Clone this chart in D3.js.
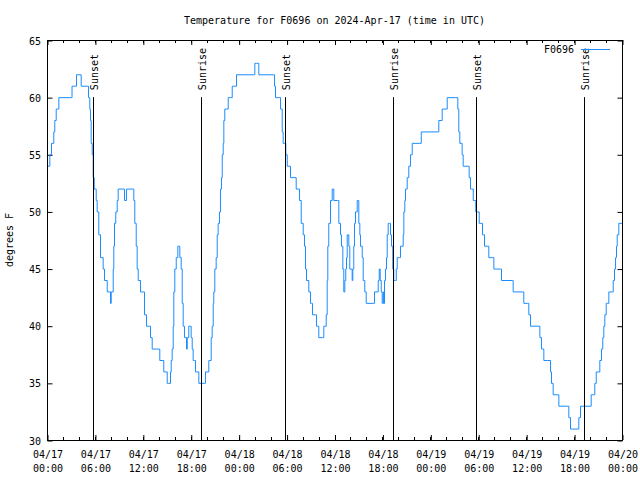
<!DOCTYPE html>
<html><head><meta charset="utf-8">
<script src="https://cdn.jsdelivr.net/npm/d3@7"></script>
<style>
html,body{margin:0;padding:0;background:#fff;}
svg{display:block;}
text{font-family:"DejaVu Sans Mono",monospace;font-size:10px;fill:#000;}
</style></head><body>
<svg id="c" width="640" height="480"></svg>
<script>
// ---- data ----
const title = "Temperature for F0696 on 2024-Apr-17 (time in UTC)";
const seriesName = "F0696";
const yLabel = "degrees F";
const startTime = "2024-04-17T00:00:00Z";
const endTime = "2024-04-20T00:00:00Z";
// hours since start (UTC)
const hours = [0,0.16,0.29,0.5,0.79,0.91,1.09,1.29,1.42,2.97,3.07,3.38,3.63,3.92,4.22,4.97,5.13,5.30,5.38,5.47,5.60,5.72,5.85,6.10,6.22,6.42,6.64,6.97,7.14,7.48,7.89,7.98,8.23,8.30,8.39,8.55,8.73,8.85,9.43,9.64,9.89,10.68,10.81,10.93,11.11,11.23,11.36,11.65,12.06,12.15,12.40,12.81,12.90,13.11,13.94,14.06,14.56,14.99,15.19,15.40,15.49,15.61,15.74,15.82,15.94,16.12,16.32,16.44,16.57,16.74,16.87,16.99,17.16,17.41,17.50,17.69,17.82,17.99,18.12,18.24,18.41,18.53,18.95,19.66,19.78,20.00,20.20,20.32,20.50,20.62,20.75,20.82,20.95,21.12,21.25,21.37,21.54,21.66,21.79,21.88,22.00,22.08,22.20,22.38,22.63,22.92,23.13,23.33,23.67,25.76,25.96,26.17,26.46,28.26,28.43,28.55,28.96,29.18,29.39,29.51,29.71,29.84,30.02,30.22,30.43,30.97,31.14,31.39,31.56,31.77,32.02,32.18,32.31,32.43,32.72,32.93,33.06,33.18,33.56,33.68,33.85,33.97,34.47,34.60,34.72,34.90,35.02,35.10,35.22,35.44,35.65,35.85,36.35,36.48,36.69,36.81,36.98,37.10,37.23,37.35,37.44,37.53,37.65,37.73,37.85,38.03,38.15,38.23,38.35,38.44,38.57,38.78,38.86,38.98,39.11,39.19,39.41,39.53,39.73,39.91,40.86,40.95,41.29,41.41,41.54,41.66,41.79,41.91,42.04,42.11,42.20,42.32,42.45,42.54,42.66,42.83,42.95,43.08,43.24,43.36,43.58,43.67,43.79,44.11,44.20,44.54,44.62,44.74,44.83,45.04,45.24,45.45,45.67,46.62,46.80,48.87,49.00,49.42,49.62,49.84,50.05,51.09,51.38,51.50,51.63,51.80,51.92,52.05,52.68,52.80,52.97,53.09,53.31,53.47,53.63,53.88,54.06,54.31,54.47,54.63,54.72,55.13,55.26,55.69,55.89,56.72,56.85,58.19,58.31,59.44,59.64,60.14,60.27,60.48,61.40,61.65,61.86,61.98,62.15,62.65,62.99,63.11,63.32,63.82,64.03,65.08,65.28,65.49,65.70,66.40,66.53,66.74,67.99,68.08,68.41,68.53,68.71,69.04,69.16,69.37,69.53,69.66,69.79,69.96,70.16,70.29,70.71,70.84,71.00,71.13,71.25,71.34,71.54,72.0];
const tempF = [54,54,55,56,57,58,59,59,60,60,61,61,62,62,61,61,60,59,58,56,55,53,52,51,50,48,46,45,44,43,42,43,45,47,49,50,51,52,52,51,52,52,51,49,47,45,44,43,43,41,40,40,39,38,38,37,36,35,35,36,37,38,40,43,45,46,47,47,46,45,42,40,39,38,39,40,40,39,38,37,37,36,35,35,36,36,37,37,39,40,42,43,45,46,48,49,50,52,53,55,56,58,59,59,60,60,61,61,62,62,63,63,62,62,61,60,60,59,57,56,56,55,54,54,53,53,52,52,51,49,48,47,45,44,43,42,42,41,41,40,40,39,39,40,40,41,44,47,49,51,52,51,51,49,48,47,45,43,44,45,46,48,48,47,45,45,44,45,47,49,50,51,51,49,48,47,46,44,43,42,42,43,43,44,45,44,43,42,43,42,44,45,46,48,49,49,48,47,45,44,44,45,46,46,47,48,50,51,52,53,54,55,56,56,57,57,58,59,59,59,60,60,59,57,56,56,55,54,54,53,52,52,51,51,50,50,49,49,48,48,47,47,46,46,45,45,44,44,43,43,42,42,41,40,40,39,38,38,37,37,36,35,34,34,33,33,32,31,31,31,32,33,33,34,34,35,36,36,37,38,39,40,41,42,42,43,43,44,45,46,47,48,49,49];
const sunTimes = ["2024-04-17T05:48:00Z","2024-04-17T19:19:00Z","2024-04-18T05:50:00Z","2024-04-18T19:22:00Z","2024-04-19T05:46:00Z","2024-04-19T19:17:00Z"];
const sunLabels = ["Sunset","Sunrise","Sunset","Sunrise","Sunset","Sunrise"];
const sunLineTop = 60;
const yDomain = [30, 65];
const yTicks = [30,35,40,45,50,55,60,65];

// ---- chart ----
const svg = d3.select("#c");
const L = 47, R = 622, T = 40, B = 440;
const t0 = new Date(startTime);
const x = d3.scaleUtc().domain([t0, new Date(endTime)]).range([L, R]);
const y = d3.scaleLinear().domain(yDomain).range([B, T]);
const data = hours.map((h, i) => ({t: new Date(t0.getTime() + h * 3600e3), v: tempF[i]}));
const fmt1 = d3.utcFormat("%m/%d"), fmt2 = d3.utcFormat("%H:%M");

// title
svg.append("text").attr("x", (L + R) / 2).attr("y", 24).attr("text-anchor", "middle").text(title);
// y label
svg.append("text").attr("transform", "translate(13,240) rotate(-90)").attr("text-anchor", "middle").text(yLabel);

// minor x ticks
const minorX = d3.utcHour.every(2).range(x.domain()[0], x.domain()[1]);
svg.append("g").attr("transform", "translate(0.5,0)").selectAll("line").data(minorX).join("line")
  .attr("x1", d => Math.round(x(d))).attr("x2", d => Math.round(x(d)))
  .attr("y1", B).attr("y2", B - 3).attr("stroke", "#000");
svg.append("g").attr("transform", "translate(0.5,0)").selectAll("line").data(minorX).join("line")
  .attr("x1", d => Math.round(x(d))).attr("x2", d => Math.round(x(d)))
  .attr("y1", T).attr("y2", T + 3).attr("stroke", "#000");

// bottom axis
const xb = svg.append("g").attr("transform", `translate(0.5,${B})`)
  .call(d3.axisBottom(x).ticks(d3.utcHour.every(6)).tickSizeInner(-5).tickSizeOuter(0).tickPadding(8).tickFormat(""));
xb.select(".domain").remove();
xb.selectAll(".tick line").attr("stroke", "#000");
xb.selectAll(".tick text").remove();
xb.selectAll(".tick").append("text").attr("text-anchor", "middle")
  .call(s => s.append("tspan").attr("x", 0).attr("y", 18).text(d => fmt1(d)))
  .call(s => s.append("tspan").attr("x", 0).attr("y", 32).text(d => fmt2(d)));
// top axis
const xt = svg.append("g").attr("transform", `translate(0.5,${T})`)
  .call(d3.axisTop(x).ticks(d3.utcHour.every(6)).tickSizeInner(-5).tickSizeOuter(0).tickFormat(""));
xt.select(".domain").remove();
xt.selectAll(".tick line").attr("stroke", "#000");
xt.selectAll("text").remove();
// left axis
const yl = svg.append("g").attr("transform", `translate(${L},0.5)`)
  .call(d3.axisLeft(y).tickValues(yTicks).tickSizeInner(-5).tickSizeOuter(0).tickPadding(6));
yl.select(".domain").remove();
yl.selectAll(".tick line").attr("stroke", "#000").attr("transform", "translate(0.5,0)");
yl.selectAll(".tick text").attr("font-family", null).attr("font-size", null).attr("fill", null).attr("dy", "0.35em");
yl.attr("font-family", null).attr("font-size", null);
// right axis
const yr = svg.append("g").attr("transform", `translate(${R},0.5)`)
  .call(d3.axisRight(y).tickValues(yTicks).tickSizeInner(-5).tickSizeOuter(0).tickFormat(""));
yr.select(".domain").remove();
yr.selectAll(".tick line").attr("stroke", "#000").attr("transform", "translate(0.5,0)");
yr.selectAll("text").remove();
xb.attr("font-family", null).attr("font-size", null);
xt.attr("font-family", null).attr("font-size", null);

// temperature line
const line = d3.line().x(d => x(d.t)).y(d => y(d.v)).curve(d3.curveStepAfter);
svg.append("path").datum(data).attr("d", line).attr("fill", "none")
  .attr("stroke", "#1a8cff").attr("stroke-width", 1).attr("transform", "translate(0.5,0.5)");

// sun lines
const sg = svg.append("g");
sunTimes.forEach((s, i) => {
  const xx = Math.round(x(new Date(s))) + 0.5;
  sg.append("line").attr("x1", xx).attr("x2", xx).attr("y1", y(sunLineTop)).attr("y2", B)
    .attr("stroke", "#000").attr("stroke-width", 1);
  sg.append("text").attr("transform", `translate(${xx + 4},${y(sunLineTop) - 7}) rotate(-90)`)
    .attr("text-anchor", "start").text(sunLabels[i]);
});

// border
svg.append("rect").attr("x", L + 0.5).attr("y", T + 0.5).attr("width", R - L).attr("height", B - T)
  .attr("fill", "none").attr("stroke", "#000");

// legend
svg.append("text").attr("x", 574).attr("y", 53).attr("text-anchor", "end").text(seriesName);
svg.append("line").attr("x1", 581).attr("x2", 610).attr("y1", 49.5).attr("y2", 49.5)
  .attr("stroke", "#1a8cff").attr("stroke-width", 1);
</script>
</body></html>
